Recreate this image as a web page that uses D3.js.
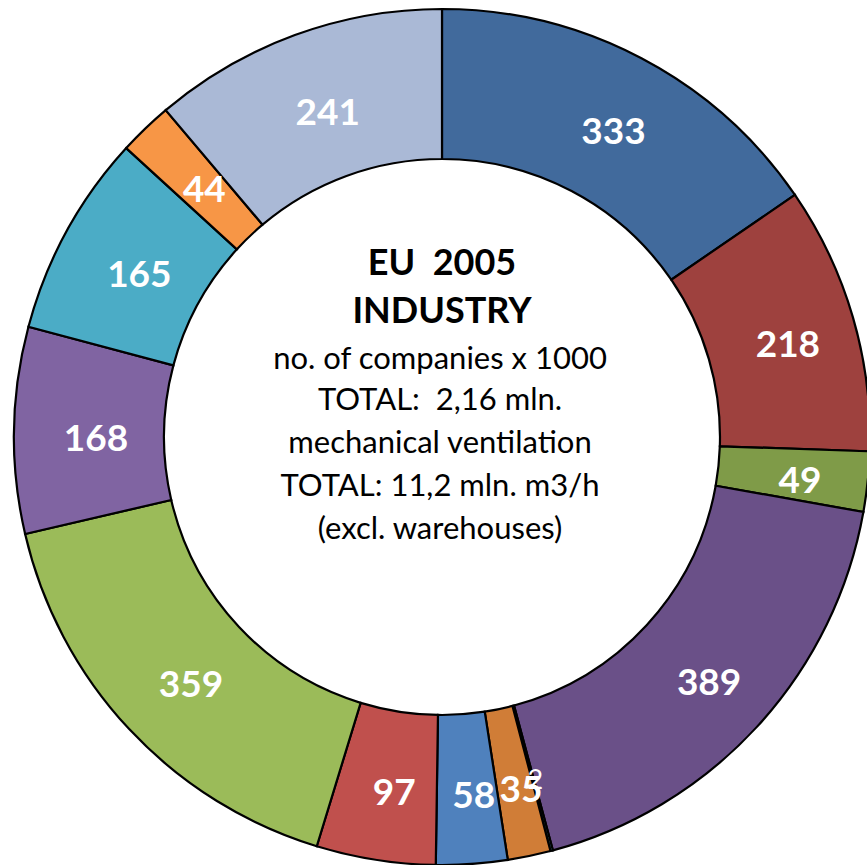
<!DOCTYPE html>
<html>
<head>
<meta charset="utf-8">
<script src="https://cdn.jsdelivr.net/npm/d3@7/dist/d3.min.js"></script>
<style>
  html, body { margin: 0; padding: 0; background: #fff; }
  svg { display: block; }
</style>
</head>
<body>
<svg id="chart" width="867" height="865"></svg>
<script>
// Number of industrial companies (x 1000) by sector, clockwise from 12 o'clock
const values = [333, 218, 49, 389, 2, 35, 58, 97, 359, 168, 165, 44, 241];
const labels = ["333", "218", "49", "389", "2", "35", "58", "97", "359", "168", "165", "44", "241"];
const colors = ["#416a9c", "#9e413e", "#7f9b48", "#6a5088", "#3aa0b8", "#d07d37",
                "#4f81bd", "#c0504d", "#9bbb59", "#8064a2", "#4bacc6", "#f79646", "#aab9d6"];
const centerTitle = ["EU  2005", "INDUSTRY"];
const centerLines = ["no. of companies x 1000", "TOTAL:  2,16 mln.", "mechanical ventilation",
                     "TOTAL: 11,2 mln. m3/h", "(excl. warehouses)"];

const FONT = "Lato, 'Open Sans', sans-serif";
const cx = 442, cy = 437, rOuter = 428, rInner = 278;

const svg = d3.select("#chart");
const g = svg.append("g").attr("transform", `translate(${cx},${cy})`);

const data = values.map((v, i) => ({ value: v, label: labels[i], color: colors[i] }));
const pie = d3.pie().value(d => d.value).sort(null).startAngle(0).endAngle(2 * Math.PI);
const arcs = pie(data);
const arc = d3.arc().innerRadius(rInner).outerRadius(rOuter);
const labelArc = d3.arc().innerRadius(rInner).outerRadius(rOuter);

g.selectAll("path.slice")
  .data(arcs)
  .join("path")
  .attr("class", "slice")
  .attr("d", arc)
  .attr("fill", d => d.data.color)
  .attr("stroke", "#000")
  .attr("stroke-width", 2.2)
  .attr("stroke-linejoin", "miter");

// Value labels sit at the ring centroid, nudged slightly down-right
const isTiny = d => d.data.value < 5;
g.selectAll("text.val")
  .data(arcs)
  .join("text")
  .attr("class", "val")
  .attr("transform", d => {
    const [x, y] = labelArc.centroid(d);
    const ox = isTiny(d) ? 3 : 7, oy = isTiny(d) ? 1 : 6;
    return `translate(${x + ox},${y + oy})`;
  })
  .attr("text-anchor", "middle")
  .attr("dy", "0.36em")
  .attr("fill", "#fff")
  .attr("font-family", FONT)
  .attr("font-weight", d => isTiny(d) ? 400 : 700)
  .attr("font-size", d => isTiny(d) ? 27 : 37)
  .text(d => d.data.label);

// Centre caption
const cap = svg.append("g").attr("font-family", FONT).attr("fill", "#000").attr("text-anchor", "middle");
const titleY = [262, 310];
centerTitle.forEach((t, i) => {
  cap.append("text")
    .attr("x", 442).attr("y", titleY[i]).attr("dy", "0.36em")
    .attr("font-size", 36).attr("font-weight", 700)
    .style("white-space", "pre")
    .text(t);
});
const lineY = [358, 399, 442, 485, 528];
centerLines.forEach((t, i) => {
  cap.append("text")
    .attr("x", 440).attr("y", lineY[i]).attr("dy", "0.34em")
    .attr("font-size", 31)
    .style("white-space", "pre")
    .text(t);
});
</script>
</body>
</html>
